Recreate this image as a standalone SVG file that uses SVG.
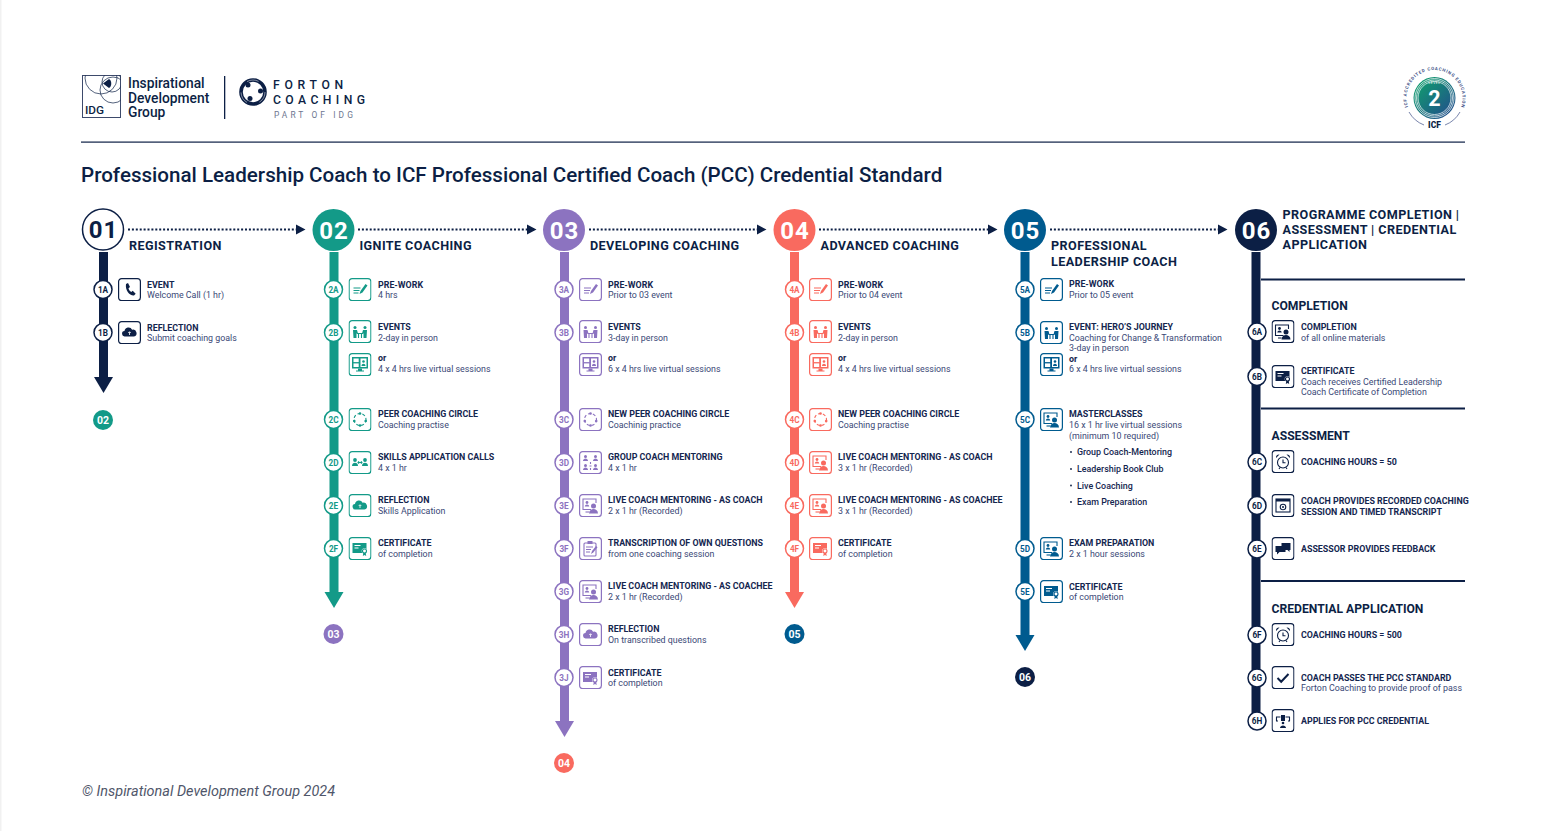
<svg xmlns="http://www.w3.org/2000/svg" xmlns:xlink="http://www.w3.org/1999/xlink" width="1541" height="831" viewBox="0 0 1541 831">
<style>
text{font-family:Roboto,"Liberation Sans",sans-serif;fill:#0c1f45}
.t{font-size:8.87px;font-weight:700;fill:#14264f}
.s{font-size:8.85px;fill:#3a4876}
.h{font-size:12.6px;font-weight:700;letter-spacing:.42px}
.sh{font-size:12.15px;font-weight:700}
.n{font-size:24px;font-weight:700;text-anchor:middle;letter-spacing:1px}
.b{font-size:10.5px;font-weight:700;text-anchor:middle;fill:#fff}
.c1{color:#0c1f45}.c2{color:#139a88}.c3{color:#8c73c0}.c4{color:#f96a5f}.c5{color:#005b8f}
.sp{fill:currentColor}
.dot{fill:none;stroke:#0c1f45;stroke-width:2.2;stroke-dasharray:2 1.9}
.nc{fill:#fff;stroke:currentColor;stroke-width:1.5}
.nl{font-size:8.2px;font-weight:700;text-anchor:middle;fill:currentColor}
.rule{stroke:#0c1f45;stroke-width:2}
.i{fill:none;stroke:currentColor;stroke-width:1.1}
.f{fill:currentColor;stroke:none}
</style>
<defs>
<linearGradient id="g" x1="0" y1="0" x2="1" y2="1"><stop offset="0" stop-color="#0fa86b"/><stop offset="1" stop-color="#23458f"/></linearGradient>
<clipPath id="idgclip"><rect x="82.500" y="75.500" width="38" height="42"/></clipPath>
<path id="arc" d="M1408 107A28 28 0 1 1 1461 107"/>
<g id="box"><rect x=".6" y=".6" width="21.8" height="22" rx="3" fill="#fff" stroke="currentColor" stroke-width="1.2"/></g>
<symbol id="phone" viewBox="0 0 23 23"><use href="#box"/><path class="f" d="M8 6l2-1 2 4-1.500 1.200c.4 1.800 1.300 3 2.800 3.800l1.400-1.200 3 3-1.700 1.800C11.500 18 7 12 8 6z"/></symbol>
<symbol id="cloud" viewBox="0 0 23 23"><use href="#box"/><path class="f" d="M7 15.500a2.700 2.700 0 0 1-.5-5.400 4 4 0 0 1 7.600-1.300A3.400 3.400 0 0 1 16 15.500z"/><path d="M11.500 14v-3M10.200 12l1.300-1.300 1.300 1.300" stroke="#fff" stroke-width=".8" fill="none"/></symbol>
<symbol id="prework" viewBox="0 0 23 23"><use href="#box"/><path class="i" stroke-width="1.200" d="M5 10h7M5 12.500h6M5 15h5"/><path class="f" d="M11 16l1-3 5-7 2 1.500-5 7z"/></symbol>
<symbol id="events" viewBox="0 0 23 23"><use href="#box"/><circle class="f" cx="6.500" cy="7.500" r="1.500"/><circle class="f" cx="16.500" cy="7.500" r="1.500"/><path class="f" d="M4.500 10h4l1 3.500H8V18H5zM18.500 10h-4l-1 3.500H15V18h3z"/><path class="i" d="M8.500 13.500h6M10 13.500V18M13 13.500V18"/></symbol>
<symbol id="screen" viewBox="0 0 23 23"><use href="#box"/><rect class="f" x="3.500" y="4" width="16" height="11.500"/><rect x="5" y="5.500" width="5.200" height="3.600" fill="#fff"/><rect x="12" y="5.500" width="6" height="8.500" fill="#fff"/><rect x="5" y="10.400" width="5.200" height="3.600" fill="#fff"/><circle class="f" cx="15" cy="8.500" r="1.300"/><path class="f" d="M13 13c0-3 4-3 4 0zM9.500 15.500h4v2h2v1h-8v-1h2z"/></symbol>
<symbol id="circle" viewBox="0 0 23 23"><use href="#box"/><circle class="i" cx="11.500" cy="11.500" r="6" stroke-dasharray="3 2"/><circle class="f" cx="11.500" cy="5.500" r="1.300"/><circle class="f" cx="5.800" cy="13" r="1.300"/><circle class="f" cx="17.200" cy="13" r="1.300"/><circle class="f" cx="11.500" cy="17.500" r="1.300"/></symbol>
<symbol id="skills" viewBox="0 0 23 23"><use href="#box"/><circle class="f" cx="6.500" cy="9" r="1.900"/><path class="f" d="M3.500 15c0-4.300 6-4.300 6 0z"/><circle class="f" cx="16.500" cy="9" r="1.900"/><path class="f" d="M13.500 15c0-4.300 6-4.300 6 0z"/><path class="i" d="M9.500 11.500h4M10.500 10.300l-1 1.200 1 1.200M12.500 10.300l1 1.200-1 1.200"/></symbol>
<symbol id="cert" viewBox="0 0 23 23"><use href="#box"/><rect class="f" x="4" y="6" width="14" height="10"/><path d="M6 8.500h6M6 11h4" stroke="#fff"/><circle cx="16" cy="14" r="2.800" fill="#fff"/><circle class="i" cx="16" cy="14" r="2"/><path class="f" d="M14.800 16l-.5 3 1.700-1 1.700 1-.5-3z"/></symbol>
<symbol id="group" viewBox="0 0 23 23"><use href="#box"/><g class="f"><circle cx="6.500" cy="5.500" r="1.500"/><path d="M4 10c0-3.400 5-3.400 5 0z"/><circle cx="16.500" cy="5.500" r="1.500"/><path d="M14 10c0-3.400 5-3.400 5 0z"/><circle cx="6.500" cy="14.500" r="1.500"/><path d="M4 19c0-3.400 5-3.400 5 0z"/><circle cx="16.500" cy="14.500" r="1.500"/><path d="M14 19c0-3.400 5-3.400 5 0z"/></g><path class="i" d="M11.500 11v2M10.500 15h2M11.500 17v2"/></symbol>
<symbol id="live" viewBox="0 0 23 23"><use href="#box"/><path class="i" stroke-width="1.500" d="M12 15.500H4V5h13v4"/><circle class="f" cx="8" cy="8.500" r="1.400"/><path class="f" d="M5.800 12.500c0-2.800 4.400-2.800 4.400 0z"/><circle class="f" cx="14.500" cy="12" r="2.500"/><path class="f" d="M10 19.500c0-6 9-6 9 0z"/><path class="i" stroke-width="1.400" d="M6.500 18H10"/></symbol>
<symbol id="clip" viewBox="0 0 23 23"><use href="#box"/><rect class="i" x="5" y="6" width="12" height="13" rx="1"/><rect class="f" x="8.500" y="4" width="5" height="3"/><path class="i" d="M7 10h7M7 12.500h5M7 15h4"/><path class="f" d="M12 17l1-3 4-5 1.500 1.200-4 5z"/></symbol>
<symbol id="clock" viewBox="0 0 23 23"><use href="#box"/><circle class="i" cx="11.500" cy="12.500" r="5.500" stroke-width="1.400"/><path class="i" d="M11.500 9.500v3.200h2.500M7.500 19l1-1.500M15.500 19l-1-1.500"/><path class="f" d="M4.500 8a3 3 0 0 1 3.500-3.500zM18.500 8a3 3 0 0 0-3.500-3.500z"/></symbol>
<symbol id="record" viewBox="0 0 23 23"><use href="#box"/><rect class="i" x="4.500" y="5" width="14" height="13"/><path class="f" d="M4.500 5h14v2.500h-14z"/><circle class="i" cx="11.500" cy="13" r="2.800"/><circle class="f" cx="11.500" cy="13" r="1"/></symbol>
<symbol id="chat" viewBox="0 0 23 23"><use href="#box"/><path class="f" d="M10 6h9v7h-1v2l-2-2h-6z"/><path class="f" stroke="#fff" stroke-width=".8" d="M4 9h10v6H8l-2.500 2.500V15H4z"/></symbol>
<symbol id="check" viewBox="0 0 23 23"><use href="#box"/><path d="M6 12l3.700 3.700L17 8" fill="none" stroke="currentColor" stroke-width="2"/></symbol>
<symbol id="apply" viewBox="0 0 23 23"><use href="#box"/><path class="i" d="M9 8H5v4h1.500M14 8h4v4h-1.500"/><rect class="f" x="9.500" y="6" width="4" height="6"/><circle class="f" cx="11.500" cy="14" r="1.300"/><path class="f" d="M8.500 19c0-3.500 6-3.500 6 0z"/></symbol>
</defs>
<rect width="1541" height="831" fill="#fff"/>
<rect width="1.500" height="831" fill="#f1f1f1"/>

<g id="logo-idg">
<rect x="82.500" y="75.500" width="38" height="42" fill="#fff" stroke="#3d4a6b" stroke-width="1"/>
<g fill="none" stroke="#0c1f45" stroke-width=".7" clip-path="url(#idgclip)"><circle cx="101" cy="78" r="16"/><circle cx="112" cy="82" r="10"/><circle cx="113" cy="90" r="13"/></g>
<path d="M103 83.500l6-4.500c3 1 3 8 0 9z" fill="#0c1f45"/>
<text x="85" y="114" font-size="11.800" font-weight="500">IDG</text>
<text x="128" y="88" font-size="13.800" font-weight="500">Inspirational</text>
<text x="128" y="102.500" font-size="13.800" font-weight="500">Development</text>
<text x="128" y="117" font-size="13.800" font-weight="500">Group</text>
</g>
<rect x="224" y="76" width="1.300" height="43" fill="#0c1f45"/>
<g id="logo-forton">
<circle cx="253" cy="92" r="12" fill="none" stroke="#0c1f45" stroke-width="3.600"/>
<circle cx="253" cy="92" r="12" fill="none" stroke="#fff" stroke-width=".5" stroke-dasharray="12 13"/>
<g fill="#0c1f45"><circle cx="248" cy="85" r="2.500"/><circle cx="260.500" cy="91" r="2.500"/><circle cx="250" cy="98.500" r="2.500"/></g>
<text x="273" y="89" font-size="12.200" font-weight="500" letter-spacing="4.700">FORTON</text>
<text x="273" y="104" font-size="12.200" font-weight="500" letter-spacing="4.400">COACHING</text>
<text x="274" y="118" font-size="8.400" letter-spacing="3.100" style="fill:#6d7690">PART OF IDG</text>
</g>
<g id="badge-icf">
<text font-size="4.300" font-weight="700" textLength="106" style="fill:#3d4f86"><textPath href="#arc">ICF ACCREDITED COACHING EDUCATION</textPath></text>
<path d="M1409 112a29 29 0 0 0 15 13M1460 112a29 29 0 0 1-15 13" fill="none" stroke="#3d4f86" stroke-width=".7"/>
<circle cx="1434.500" cy="98" r="21" fill="url(#g)"/>
<g fill="none" stroke="#fff" stroke-width=".7"><circle cx="1434.500" cy="98" r="19.500"/><circle cx="1434.500" cy="98" r="18"/><circle cx="1434.500" cy="98" r="16.500"/></g>
<text x="1434.500" y="84" font-size="3.200" text-anchor="middle" letter-spacing=".6" style="fill:#fff">LEVEL</text>
<text x="1434.500" y="105.500" font-size="21.500" font-weight="700" text-anchor="middle" style="fill:#fff">2</text>
<text x="1434.500" y="128" font-size="8.500" font-weight="900" text-anchor="middle">ICF</text>
</g>
<rect x="81" y="141.500" width="1384" height="1.200" fill="#0c1f45"/>
<text id="title" x="81" y="182" font-size="20.600" font-weight="500">Professional Leadership Coach to ICF Professional Certified Coach (PCC) Credential Standard</text>

<g id="connectors">
<g class="c1"><rect class="sp" x="99" y="252" width="9" height="126"/><path class="sp" d="M94 377h19l-9.500 16z"/></g>
<g class="c2"><rect class="sp" x="329.500" y="252" width="9" height="341"/><path class="sp" d="M324.500 592h19l-9.500 16z"/></g>
<g class="c3"><rect class="sp" x="560" y="252" width="9" height="470"/><path class="sp" d="M555 721h19l-9.500 16z"/></g>
<g class="c4"><rect class="sp" x="790" y="252" width="9" height="341"/><path class="sp" d="M785 592h19l-9.500 16z"/></g>
<g class="c5"><rect class="sp" x="1020.500" y="252" width="9" height="384"/><path class="sp" d="M1015.500 635h19l-9.500 16z"/></g>
<g class="c1"><rect class="sp" x="1251.500" y="252" width="9" height="468"/></g>
<path class="dot" d="M128 229.500H296M358 229.500H527M589 229.500H757M819 229.500H988M1050 229.500H1218"/>
<path fill="#0c1f45" d="M296 224.500l9.500 5-9.500 5zM527 224.500l9.500 5-9.500 5zM757 224.500l9.500 5-9.500 5zM988 224.500l9.500 5-9.500 5zM1218 224.500l9.500 5-9.500 5z"/>
</g>

<g id="stage-01" class="c1">
<circle cx="103" cy="229.500" r="20.500" fill="#fff" stroke="#0c1f45" stroke-width="1.500"/><text class="n" x="103.500" y="238">01</text>
<text class="h" x="129" y="250">REGISTRATION</text>
<g id="n1A"><circle class="nc" cx="103" cy="289.500" r="9"/><text class="nl" x="103" y="292.500">1A</text><use href="#phone" x="118" y="278" width="23" height="23"/><text class="t" x="147" y="288">EVENT</text><text class="s" x="147" y="298">Welcome Call (1 hr)</text></g>
<g id="n1B"><circle class="nc" cx="103" cy="332.500" r="9"/><text class="nl" x="103" y="335.500">1B</text><use href="#cloud" x="118" y="321" width="23" height="23"/><text class="t" x="147" y="331">REFLECTION</text><text class="s" x="147" y="341">Submit coaching goals</text></g>
<g id="next-02"><circle cx="103" cy="420" r="10" fill="#139a88"/><text class="b" x="103" y="423.800">02</text></g>
</g>

<g id="stage-02" class="c2">
<circle cx="333.500" cy="230" r="21" fill="currentColor"/><text class="n" x="334" y="238.500" style="fill:#fff">02</text>
<text class="h" x="359.500" y="250">IGNITE COACHING</text>
<g id="n2A"><circle class="nc" cx="333.500" cy="289.500" r="9"/><text class="nl" x="333.500" y="292.500">2A</text><use href="#prework" x="348.500" y="278" width="23" height="23"/><text class="t" x="378" y="288">PRE-WORK</text><text class="s" x="378" y="298">4 hrs</text></g>
<g id="n2B"><circle class="nc" cx="333.500" cy="332.500" r="9"/><text class="nl" x="333.500" y="335.500">2B</text><use href="#events" x="348.500" y="320" width="23" height="23"/><text class="t" x="378" y="330">EVENTS</text><text class="s" x="378" y="341">2-day in person</text><use href="#screen" x="348.500" y="353" width="23" height="23"/><text class="t" x="378" y="361">or</text><text class="s" x="378" y="372">4 x 4 hrs live virtual sessions</text></g>
<g id="n2C"><circle class="nc" cx="333.500" cy="419.500" r="9"/><text class="nl" x="333.500" y="422.500">2C</text><use href="#circle" x="348.500" y="408" width="23" height="23"/><text class="t" x="378" y="417">PEER COACHING CIRCLE</text><text class="s" x="378" y="428">Coaching practise</text></g>
<g id="n2D"><circle class="nc" cx="333.500" cy="462.500" r="9"/><text class="nl" x="333.500" y="465.500">2D</text><use href="#skills" x="348.500" y="451" width="23" height="23"/><text class="t" x="378" y="460">SKILLS APPLICATION CALLS</text><text class="s" x="378" y="471">4 x 1 hr</text></g>
<g id="n2E"><circle class="nc" cx="333.500" cy="505.500" r="9"/><text class="nl" x="333.500" y="508.500">2E</text><use href="#cloud" x="348.500" y="494" width="23" height="23"/><text class="t" x="378" y="503">REFLECTION</text><text class="s" x="378" y="514">Skills Application</text></g>
<g id="n2F"><circle class="nc" cx="333.500" cy="548.500" r="9"/><text class="nl" x="333.500" y="551.500">2F</text><use href="#cert" x="348.500" y="537" width="23" height="23"/><text class="t" x="378" y="546">CERTIFICATE</text><text class="s" x="378" y="557">of completion</text></g>
<g id="next-03"><circle cx="333.500" cy="634" r="10" fill="#8c73c0"/><text class="b" x="333.500" y="637.800">03</text></g>
</g>

<g id="stage-03" class="c3">
<circle cx="564" cy="230" r="21" fill="currentColor"/><text class="n" x="564.500" y="238.500" style="fill:#fff">03</text>
<text class="h" x="590" y="250">DEVELOPING COACHING</text>
<g id="n3A"><circle class="nc" cx="564" cy="289.500" r="9"/><text class="nl" x="564" y="292.500">3A</text><use href="#prework" x="579" y="278" width="23" height="23"/><text class="t" x="608" y="288">PRE-WORK</text><text class="s" x="608" y="298">Prior to 03 event</text></g>
<g id="n3B"><circle class="nc" cx="564" cy="332.500" r="9"/><text class="nl" x="564" y="335.500">3B</text><use href="#events" x="579" y="320" width="23" height="23"/><text class="t" x="608" y="330">EVENTS</text><text class="s" x="608" y="341">3-day in person</text><use href="#screen" x="579" y="353" width="23" height="23"/><text class="t" x="608" y="361">or</text><text class="s" x="608" y="372">6 x 4 hrs live virtual sessions</text></g>
<g id="n3C"><circle class="nc" cx="564" cy="419.500" r="9"/><text class="nl" x="564" y="422.500">3C</text><use href="#circle" x="579" y="408" width="23" height="23"/><text class="t" x="608" y="417">NEW PEER COACHING CIRCLE</text><text class="s" x="608" y="428">Coachinig practice</text></g>
<g id="n3D"><circle class="nc" cx="564" cy="462.500" r="9"/><text class="nl" x="564" y="465.500">3D</text><use href="#group" x="579" y="451" width="23" height="23"/><text class="t" x="608" y="460">GROUP COACH MENTORING</text><text class="s" x="608" y="471">4 x 1 hr</text></g>
<g id="n3E"><circle class="nc" cx="564" cy="505.500" r="9"/><text class="nl" x="564" y="508.500">3E</text><use href="#live" x="579" y="494" width="23" height="23"/><text class="t" x="608" y="503">LIVE COACH MENTORING - AS COACH</text><text class="s" x="608" y="514">2 x 1 hr (Recorded)</text></g>
<g id="n3F"><circle class="nc" cx="564" cy="548.500" r="9"/><text class="nl" x="564" y="551.500">3F</text><use href="#clip" x="579" y="537" width="23" height="23"/><text class="t" x="608" y="546">TRANSCRIPTION OF OWN QUESTIONS</text><text class="s" x="608" y="557">from one coaching session</text></g>
<g id="n3G"><circle class="nc" cx="564" cy="591.500" r="9"/><text class="nl" x="564" y="594.500">3G</text><use href="#live" x="579" y="580" width="23" height="23"/><text class="t" x="608" y="589">LIVE COACH MENTORING - AS COACHEE</text><text class="s" x="608" y="600">2 x 1 hr (Recorded)</text></g>
<g id="n3H"><circle class="nc" cx="564" cy="634.500" r="9"/><text class="nl" x="564" y="637.500">3H</text><use href="#cloud" x="579" y="623" width="23" height="23"/><text class="t" x="608" y="632">REFLECTION</text><text class="s" x="608" y="643">On transcribed questions</text></g>
<g id="n3J"><circle class="nc" cx="564" cy="677.500" r="9"/><text class="nl" x="564" y="680.500">3J</text><use href="#cert" x="579" y="666" width="23" height="23"/><text class="t" x="608" y="676">CERTIFICATE</text><text class="s" x="608" y="686">of completion</text></g>
<g id="next-04"><circle cx="564" cy="763" r="10" fill="#f96a5f"/><text class="b" x="564" y="766.800">04</text></g>
</g>

<g id="stage-04" class="c4">
<circle cx="794.500" cy="230" r="21" fill="currentColor"/><text class="n" x="795" y="238.500" style="fill:#fff">04</text>
<text class="h" x="820.500" y="250">ADVANCED COACHING</text>
<g id="n4A"><circle class="nc" cx="794.500" cy="289.500" r="9"/><text class="nl" x="794.500" y="292.500">4A</text><use href="#prework" x="809" y="278" width="23" height="23"/><text class="t" x="838" y="288">PRE-WORK</text><text class="s" x="838" y="298">Prior to 04 event</text></g>
<g id="n4B"><circle class="nc" cx="794.500" cy="332.500" r="9"/><text class="nl" x="794.500" y="335.500">4B</text><use href="#events" x="809" y="320" width="23" height="23"/><text class="t" x="838" y="330">EVENTS</text><text class="s" x="838" y="341">2-day in person</text><use href="#screen" x="809" y="353" width="23" height="23"/><text class="t" x="838" y="361">or</text><text class="s" x="838" y="372">4 x 4 hrs live virtual sessions</text></g>
<g id="n4C"><circle class="nc" cx="794.500" cy="419.500" r="9"/><text class="nl" x="794.500" y="422.500">4C</text><use href="#circle" x="809" y="408" width="23" height="23"/><text class="t" x="838" y="417">NEW PEER COACHING CIRCLE</text><text class="s" x="838" y="428">Coaching practise</text></g>
<g id="n4D"><circle class="nc" cx="794.500" cy="462.500" r="9"/><text class="nl" x="794.500" y="465.500">4D</text><use href="#live" x="809" y="451" width="23" height="23"/><text class="t" x="838" y="460">LIVE COACH MENTORING - AS COACH</text><text class="s" x="838" y="471">3 x 1 hr (Recorded)</text></g>
<g id="n4E"><circle class="nc" cx="794.500" cy="505.500" r="9"/><text class="nl" x="794.500" y="508.500">4E</text><use href="#live" x="809" y="494" width="23" height="23"/><text class="t" x="838" y="503">LIVE COACH MENTORING - AS COACHEE</text><text class="s" x="838" y="514">3 x 1 hr (Recorded)</text></g>
<g id="n4F"><circle class="nc" cx="794.500" cy="548.500" r="9"/><text class="nl" x="794.500" y="551.500">4F</text><use href="#cert" x="809" y="537" width="23" height="23"/><text class="t" x="838" y="546">CERTIFICATE</text><text class="s" x="838" y="557">of completion</text></g>
<g id="next-05"><circle cx="794.500" cy="634" r="10" fill="#005b8f"/><text class="b" x="794.500" y="637.800">05</text></g>
</g>

<g id="stage-05" class="c5">
<circle cx="1025" cy="230" r="21" fill="currentColor"/><text class="n" x="1025.500" y="238.500" style="fill:#fff">05</text>
<text class="h" x="1051" y="250">PROFESSIONAL</text><text class="h" x="1051" y="266">LEADERSHIP COACH</text>
<g id="n5A"><circle class="nc" cx="1025" cy="289.500" r="9"/><text class="nl" x="1025" y="292.500">5A</text><use href="#prework" x="1040" y="278" width="23" height="23"/><text class="t" x="1069" y="287">PRE-WORK</text><text class="s" x="1069" y="298">Prior to 05 event</text></g>
<g id="n5B"><circle class="nc" cx="1025" cy="332.500" r="9"/><text class="nl" x="1025" y="335.500">5B</text><use href="#events" x="1040" y="321" width="23" height="23"/><text class="t" x="1069" y="330">EVENT: HERO’S JOURNEY</text><text class="s" x="1069" y="341">Coaching for Change &amp; Transformation</text><text class="s" x="1069" y="351">3-day in person</text><use href="#screen" x="1040" y="353" width="23" height="23"/><text class="t" x="1069" y="362">or</text><text class="s" x="1069" y="372">6 x 4 hrs live virtual sessions</text></g>
<g id="n5C"><circle class="nc" cx="1025" cy="419.500" r="9"/><text class="nl" x="1025" y="422.500">5C</text><use href="#live" x="1040" y="408" width="23" height="23"/><text class="t" x="1069" y="417">MASTERCLASSES</text><text class="s" x="1069" y="427.500">16 x 1 hr live virtual sessions</text><text class="s" x="1069" y="438.500">(minimum 10 required)</text>
<g fill="#0c1f45"><circle cx="1071" cy="452" r=".9"/><circle cx="1071" cy="469" r=".9"/><circle cx="1071" cy="485.500" r=".9"/><circle cx="1071" cy="502" r=".9"/></g>
<text class="t" x="1077" y="455" style="font-weight:500">Group Coach-Mentoring</text><text class="t" x="1077" y="472" style="font-weight:500">Leadership Book Club</text><text class="t" x="1077" y="488.500" style="font-weight:500">Live Coaching</text><text class="t" x="1077" y="505" style="font-weight:500">Exam Preparation</text></g>
<g id="n5D"><circle class="nc" cx="1025" cy="548.500" r="9"/><text class="nl" x="1025" y="551.500">5D</text><use href="#live" x="1040" y="537" width="23" height="23"/><text class="t" x="1069" y="546">EXAM PREPARATION</text><text class="s" x="1069" y="557">2 x 1 hour sessions</text></g>
<g id="n5E"><circle class="nc" cx="1025" cy="591.500" r="9"/><text class="nl" x="1025" y="594.500">5E</text><use href="#cert" x="1040" y="580" width="23" height="23"/><text class="t" x="1069" y="589.500">CERTIFICATE</text><text class="s" x="1069" y="600">of completion</text></g>
<g id="next-06"><circle cx="1025" cy="677" r="10" fill="#0c1f45"/><text class="b" x="1025" y="680.800">06</text></g>
</g>

<g id="stage-06" class="c1">
<circle cx="1256" cy="230" r="21" fill="currentColor"/><text class="n" x="1256.500" y="238.500" style="fill:#fff">06</text>
<text class="h" x="1282.500" y="219">PROGRAMME COMPLETION |</text><text class="h" x="1282.500" y="234">ASSESSMENT | CREDENTIAL</text><text class="h" x="1282.500" y="249">APPLICATION</text>
<path class="rule" d="M1261 279.500H1465M1261 408.500H1465M1261 581H1465"/>
<text class="sh" x="1271.500" y="310">COMPLETION</text>
<g id="n6A"><circle class="nc" cx="1257" cy="332" r="9"/><text class="nl" x="1257" y="335">6A</text><use href="#live" x="1271.500" y="320" width="23" height="23"/><text class="t" x="1301" y="330">COMPLETION</text><text class="s" x="1301" y="341">of all online materials</text></g>
<g id="n6B"><circle class="nc" cx="1257" cy="376.500" r="9"/><text class="nl" x="1257" y="379.500">6B</text><use href="#cert" x="1271.500" y="365" width="23" height="23"/><text class="t" x="1301" y="374">CERTIFICATE</text><text class="s" x="1301" y="385">Coach receives Certified Leadership</text><text class="s" x="1301" y="395">Coach Certificate of Completion</text></g>
<text class="sh" x="1271.500" y="440">ASSESSMENT</text>
<g id="n6C"><circle class="nc" cx="1257" cy="462" r="9"/><text class="nl" x="1257" y="465">6C</text><use href="#clock" x="1271.500" y="450" width="23" height="23"/><text class="t" x="1301" y="465">COACHING HOURS = 50</text></g>
<g id="n6D"><circle class="nc" cx="1257" cy="505.500" r="9"/><text class="nl" x="1257" y="508.500">6D</text><use href="#record" x="1271.500" y="494" width="23" height="23"/><text class="t" x="1301" y="504">COACH PROVIDES RECORDED COACHING</text><text class="t" x="1301" y="515">SESSION AND TIMED TRANSCRIPT</text></g>
<g id="n6E"><circle class="nc" cx="1257" cy="549" r="9"/><text class="nl" x="1257" y="552">6E</text><use href="#chat" x="1271.500" y="537" width="23" height="23"/><text class="t" x="1301" y="552">ASSESSOR PROVIDES FEEDBACK</text></g>
<text class="sh" x="1271.500" y="613">CREDENTIAL APPLICATION</text>
<g id="n6F"><circle class="nc" cx="1257" cy="635" r="9"/><text class="nl" x="1257" y="638">6F</text><use href="#clock" x="1271.500" y="623" width="23" height="23"/><text class="t" x="1301" y="638">COACHING HOURS = 500</text></g>
<g id="n6G"><circle class="nc" cx="1257" cy="678" r="9"/><text class="nl" x="1257" y="681">6G</text><use href="#check" x="1271.500" y="666" width="23" height="23"/><text class="t" x="1301" y="681">COACH PASSES THE PCC STANDARD</text><text class="s" x="1301" y="691">Forton Coaching to provide proof of pass</text></g>
<g id="n6H"><circle class="nc" cx="1257" cy="721" r="9"/><text class="nl" x="1257" y="724">6H</text><use href="#apply" x="1271.500" y="709" width="23" height="23"/><text class="t" x="1301" y="724">APPLIES FOR PCC CREDENTIAL</text></g>
</g>
<text id="copyright" x="82" y="796" font-size="15" font-style="italic" textLength="253" lengthAdjust="spacingAndGlyphs" style="fill:#50566a">© Inspirational Development Group 2024</text>
</svg>
